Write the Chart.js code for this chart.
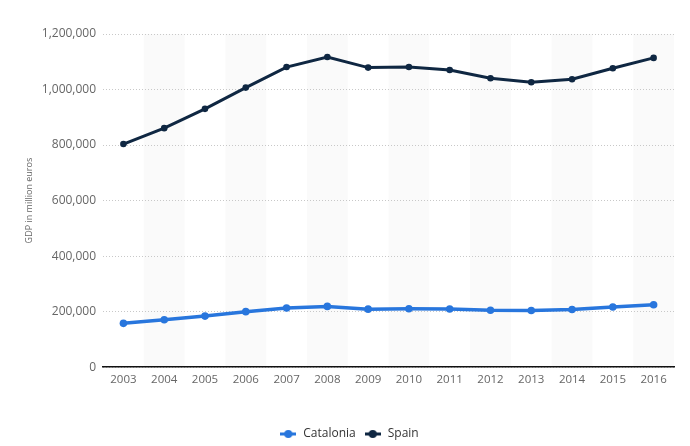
<!DOCTYPE html>
<html>
<head>
<meta charset="utf-8">
<script src="https://cdn.jsdelivr.net/npm/chart.js@4/dist/chart.umd.min.js"></script>
<style>
  html, body { margin: 0; padding: 0; background: #fff; }
  #wrap { width: 690px; height: 446px; }
</style>
</head>
<body>
<div id="wrap"><canvas id="gdp-chart"></canvas></div>
<script>
const years = ["2003", "2004", "2005", "2006", "2007", "2008", "2009", "2010", "2011", "2012", "2013", "2014", "2015", "2016"];
const catalonia = [158000, 171000, 184000, 200000, 213000, 219000, 209000, 210500, 209500, 205000, 204000, 208000, 217000, 225000];
const spain = [803700, 861000, 930500, 1007000, 1081000, 1117000, 1079000, 1081000, 1070500, 1040500, 1026000, 1037000, 1076500, 1114000];
const y_ticks = [0, 200000, 400000, 600000, 800000, 1000000, 1200000];

const blue = '#2876dd';
const navy = '#0f2742';

// little legend marker: a short line with a dot in the middle
function legendMarker(color){
    let c = document.createElement('canvas');
    c.width = 16; c.height = 10;
    let g = c.getContext('2d');
    g.strokeStyle = color;
    g.lineWidth = 3;
    g.beginPath(); g.moveTo(0, 5); g.lineTo(16, 5); g.stroke();
    g.fillStyle = color;
    g.beginPath(); g.arc(8, 5, 4, 0, Math.PI * 2); g.fill();
    return c;
}

// shaded columns behind every second year
const bands = {
    id: 'bands',
    beforeDraw(chart){
        let ctx = chart.ctx;
        let x = chart.scales.x;
        let area = chart.chartArea;
        let step = x.getPixelForValue(1) - x.getPixelForValue(0);
        ctx.save();
        ctx.fillStyle = '#fafafa';
        for (let i = 1; i < years.length; i += 2) {
            let cx = x.getPixelForValue(i);
            ctx.fillRect(cx - step / 2, area.top, step, area.bottom - area.top);
        }
        ctx.restore();
    }
};

let data = {
    labels: years,
    datasets: [{
        label: 'Catalonia',
        data: catalonia,
        borderColor: blue,
        backgroundColor: blue,
        borderWidth: 3.5,
        pointRadius: 3.8,
        pointBorderWidth: 0,
        pointHoverRadius: 3.8,
        tension: 0
    }, {
        label: 'Spain',
        data: spain,
        borderColor: navy,
        backgroundColor: navy,
        borderWidth: 3,
        pointRadius: 3.3,
        pointBorderWidth: 0,
        pointHoverRadius: 3.3,
        tension: 0
    }]
};

let config = {
    type: 'line',
    data: data,
    plugins: [bands],
    options: {
        responsive: true,
        maintainAspectRatio: false,
        animation: false,
        layout: { padding: { top: 34, right: 16, left: 24, bottom: -4 } },
        plugins: {
            tooltip: { enabled: false },
            legend: {
                position: 'bottom',
                labels: {
                    usePointStyle: true,
                    pointStyleWidth: 18,
                    color: '#333',
                    font: { family: 'Open Sans', size: 12 },
                    padding: 8,
                    generateLabels(chart){
                        return chart.data.datasets.map((ds, i) => ({
                            text: ds.label,
                            pointStyle: legendMarker(ds.borderColor),
                            fillStyle: ds.borderColor,
                            strokeStyle: ds.borderColor,
                            fontColor: '#333',
                            lineWidth: 0,
                            hidden: false,
                            datasetIndex: i
                        }));
                    }
                }
            }
        },
        scales: {
            x: {
                offset: true,
                grid: { display: false, drawTicks: false },
                border: { display: true, color: '#111', width: 1.5 },
                ticks: { color: '#666', font: { family: 'Open Sans', size: 11.5 }, padding: 6 },
                afterFit(scale){ scale.height += 27; }
            },
            y: {
                min: 0,
                max: 1200000,
                afterBuildTicks(axis){ axis.ticks = y_ticks.map(v => ({ value: v })); },
                grid: { color: '#c8c8c8', drawTicks: false, lineWidth: 1 },
                border: { display: false, dash: [1, 2] },
                ticks: {
                    color: '#666',
                    font: { family: 'Open Sans', size: 12 },
                    padding: 7,
                    callback: v => v.toLocaleString('en-US')
                },
                title: {
                    display: true,
                    text: 'GDP in million euros',
                    color: '#666',
                    font: { family: 'Open Sans', size: 9 },
                    padding: { top: 0, bottom: 0 }
                }
            }
        }
    }
};

let gdp_chart = new Chart(document.getElementById('gdp-chart'), config);
</script>
</body>
</html>
